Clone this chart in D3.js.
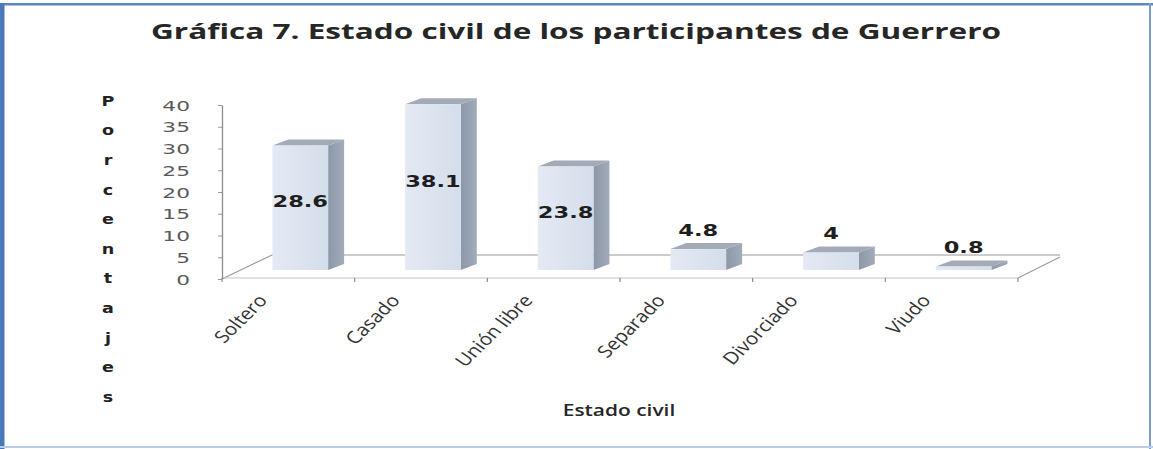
<!DOCTYPE html>
<html>
<head>
<meta charset="utf-8">
<script src="https://cdn.jsdelivr.net/npm/d3@7"></script>
<style>
  html, body { margin: 0; padding: 0; background: #ffffff; }
  svg { display: block; }
</style>
</head>
<body>
<svg id="chart" width="1153" height="449"></svg>
<script>
// Estado civil de los participantes de Guerrero (porcentajes)
const categories = ["Soltero", "Casado", "Unión libre", "Separado", "Divorciado", "Viudo"];
const values = [28.6, 38.1, 23.8, 4.8, 4, 0.8];
const yTicks = [0, 5, 10, 15, 20, 25, 30, 35, 40];
const titleText = "Gráfica 7. Estado civil de los participantes de Guerrero";
const yTitleText = "Porcentajes";
const xTitleText = "Estado civil";

const W = 1153, H = 449;
const svg = d3.select("#chart");

// Panel frame
svg.append("rect").attr("x", 0).attr("y", 0).attr("width", W).attr("height", H).attr("fill", "#ffffff");
svg.append("rect").attr("x", 0).attr("y", 3).attr("width", W).attr("height", 2.5).attr("fill", "#5d87c2");
svg.append("rect").attr("x", 0).attr("y", 3).attr("width", 4.5).attr("height", H - 3).attr("fill", "#4a78b8");
svg.append("rect").attr("x", 1149).attr("y", 3).attr("width", 2).attr("height", H - 3).attr("fill", "#7c9dcd");
svg.append("rect").attr("x", 0).attr("y", 446).attr("width", W).attr("height", 2).attr("fill", "#b9cde6");

// Scales
const x = d3.scaleBand().domain(categories).range([222, 1018]).padding(0);
const y = d3.scaleLinear().domain([0, 40]).range([279, 105]);
const bw = x.bandwidth();

// 3D geometry of the floor and of the bars
const floorDepth = { dx: 50, dy: -24 };
const barShift = { dx: 0.38 * bw, dy: -9 };   // bars stand in the middle of the floor depth
const barWidth = 0.42 * bw;
const barDepth = { dx: 16, dy: -6 };
const frontY = y(0) - 1;   // front floor edge

const defs = svg.append("defs");
const gFront = defs.append("linearGradient").attr("id", "front").attr("x1", 0).attr("x2", 1).attr("y1", 0).attr("y2", 0);
gFront.append("stop").attr("offset", 0).attr("stop-color", "#e4eaf4");
gFront.append("stop").attr("offset", 1).attr("stop-color", "#d4ddea");
const gSide = defs.append("linearGradient").attr("id", "side").attr("x1", 0).attr("x2", 1).attr("y1", 0).attr("y2", 0);
gSide.append("stop").attr("offset", 0).attr("stop-color", "#8c97a8");
gSide.append("stop").attr("offset", 1).attr("stop-color", "#a1abb9");

// Floor
const floor = svg.append("g").attr("stroke", "#9a9a9a").attr("stroke-width", 1.2).attr("fill", "none");
const [r0, r1] = x.range();
floor.append("line").attr("x1", r0).attr("y1", y(0)).attr("x2", r0 + floorDepth.dx).attr("y2", y(0) + floorDepth.dy);
floor.append("line").attr("x1", r0 + floorDepth.dx).attr("y1", y(0) + floorDepth.dy)
  .attr("x2", r1 + floorDepth.dx - 8).attr("y2", y(0) + floorDepth.dy);
floor.append("line").attr("x1", r1).attr("y1", frontY).attr("x2", r1 + floorDepth.dx - 8).attr("y2", y(0) + floorDepth.dy + 2);
floor.append("line").attr("x1", r0).attr("y1", frontY).attr("x2", r1).attr("y2", frontY).attr("stroke", "#c4c4c4");

// Category tick marks along the front floor edge
const tickPos = categories.map(c => x(c)).concat([r1]);
floor.selectAll("line.xt").data(tickPos).join("line").attr("class", "xt")
  .attr("x1", d => d).attr("x2", d => d).attr("y1", frontY).attr("y2", frontY + 4).attr("stroke", "#8a8a8a");

// Y axis
const yAxis = svg.append("g").attr("transform", `translate(${r0},0)`)
  .call(d3.axisLeft(y).tickValues(yTicks).tickSize(4).tickSizeOuter(0));
yAxis.select(".domain").attr("stroke", "#8a8a8a").attr("stroke-width", 1.3);
yAxis.selectAll(".tick line").attr("stroke", "#9a9a9a");
yAxis.selectAll(".tick text")
  .attr("font-family", "DejaVu Sans, sans-serif").attr("font-size", 14.5).attr("fill", "#5a5a5a")
  .attr("x", -32 / 1.5).attr("dy", "0.36em").attr("transform", "scale(1.5,1)");

// Bars
const bars = svg.append("g");
categories.forEach((c, i) => {
  const v = values[i];
  const h = y(0) - y(v);
  const x0 = x(c) + barShift.dx, x1 = x0 + barWidth;
  const yb = y(0) + barShift.dy, yt = yb - h;
  const g = bars.append("g");
  // side face
  g.append("path").attr("fill", "url(#side)")
    .attr("d", `M${x1},${yb}L${x1 + barDepth.dx},${yb + barDepth.dy}L${x1 + barDepth.dx},${yt + barDepth.dy}L${x1},${yt}Z`);
  // top face
  g.append("path").attr("fill", "#a3abb7")
    .attr("d", `M${x0},${yt}L${x1},${yt}L${x1 + barDepth.dx},${yt + barDepth.dy}L${x0 + barDepth.dx},${yt + barDepth.dy}Z`);
  // front face
  g.append("rect").attr("x", x0).attr("y", yt).attr("width", barWidth).attr("height", h).attr("fill", "url(#front)");
});

// Value labels
const labels = svg.append("g");
categories.forEach((c, i) => {
  const v = values[i];
  const h = y(0) - y(v);
  const cx = x(c) + barShift.dx + barWidth / 2;
  const yb = y(0) + barShift.dy;
  const ly = v >= 10 ? yb - h / 2 - 6 : yb - h - 19;
  labels.append("text")
    .attr("transform", `translate(${cx},${ly}) scale(1.5,1)`)
    .attr("text-anchor", "middle").attr("dy", "0.36em")
    .attr("font-family", "DejaVu Sans, sans-serif").attr("font-weight", "bold").attr("font-size", 15)
    .attr("fill", "#1e1e1e")
    .text(String(v));
});

// Category labels
svg.append("g").selectAll("text").data(categories).join("text")
  .attr("transform", d => `translate(${x(d) + bw / 2 - 20},${301}) scale(1.22,1) rotate(-50)`)
  .attr("text-anchor", "end")
  .attr("font-family", "Open Sans, sans-serif").attr("font-size", 17).attr("fill", "#333")
  .text(d => d);

// Title
svg.append("text")
  .attr("x", 576).attr("y", 39)
  .attr("text-anchor", "middle")
  .attr("font-family", "Open Sans, sans-serif").attr("font-weight", 700).attr("font-size", 21)
  .attr("fill", "#262626")
  .attr("textLength", 850).attr("lengthAdjust", "spacingAndGlyphs")
  .text(titleText);

// Vertical axis title, one letter per line
svg.append("g").selectAll("text").data(yTitleText.split("")).join("text")
  .attr("transform", (d, i) => `translate(108,${101 + i * 29.6}) scale(1.3,1)`)
  .attr("text-anchor", "middle").attr("dy", "0.36em")
  .attr("font-family", "DejaVu Sans, sans-serif").attr("font-weight", "bold").attr("font-size", 13.5)
  .attr("fill", "#222")
  .text(d => d);

// Horizontal axis title
svg.append("text")
  .attr("transform", "translate(619,410) scale(1.35,1)")
  .attr("text-anchor", "middle").attr("dy", "0.36em")
  .attr("font-family", "Open Sans, sans-serif").attr("font-weight", 600).attr("font-size", 15.5)
  .attr("fill", "#262626")
  .text(xTitleText);
</script>
</body>
</html>
